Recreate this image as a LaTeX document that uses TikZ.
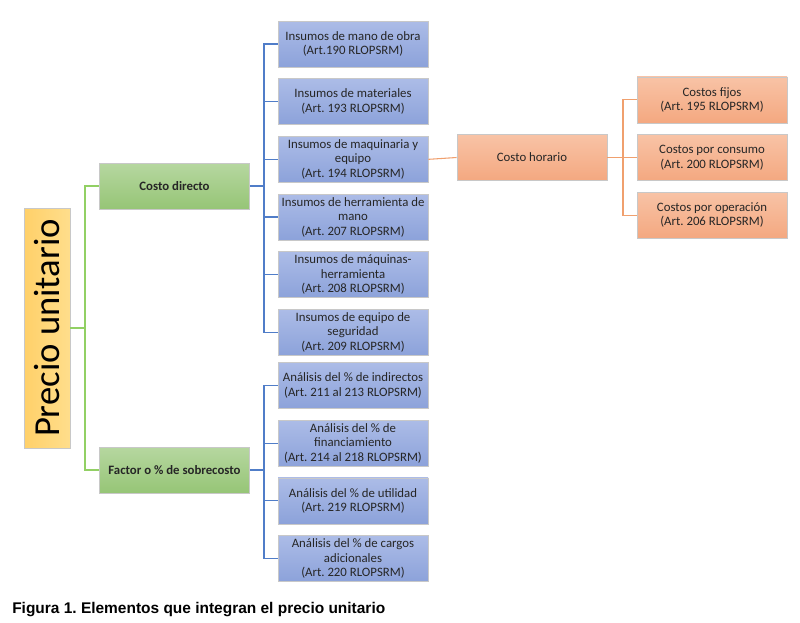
\documentclass[tikz,border=0pt]{standalone}
\usepackage{fontspec}
\setmainfont{Carlito}
\newfontfamily\capfont{Liberation Sans}
\usepackage{tikz}
\usetikzlibrary{positioning, calc}
\frenchspacing

\definecolor{bluetop}{RGB}{172,188,231}
\definecolor{bluebot}{RGB}{140,162,218}
\definecolor{greentop}{RGB}{182,215,160}
\definecolor{greenbot}{RGB}{150,197,118}
\definecolor{orangetop}{RGB}{248,195,166}
\definecolor{orangebot}{RGB}{244,168,128}
\definecolor{goldtop}{RGB}{255,222,140}
\definecolor{goldbot}{RGB}{255,208,105}
\definecolor{bline}{RGB}{80,125,200}
\definecolor{gline}{RGB}{146,208,100}
\definecolor{oline}{RGB}{240,160,110}
\definecolor{edgegray}{RGB}{200,200,200}

\begin{document}
\begin{tikzpicture}[
  x=0.75pt, y=-0.75pt,
  node distance=8.25pt and 20pt,
  every node/.style={font=\fontsize{9.6}{10.9}\selectfont, text=black!85},
  box/.style={rectangle, draw=edgegray, line width=0.5pt, minimum width=112.5pt, minimum height=34.5pt, align=center, inner xsep=1pt, inner ysep=0.5pt},
  blue/.style={box, top color=bluetop, bottom color=bluebot},
  green/.style={box, top color=greentop, bottom color=greenbot, font=\fontsize{9.6}{10.9}\selectfont\bfseries},
  orange/.style={box, top color=orangetop, bottom color=orangebot},
  bwire/.style={draw=bline, line width=0.8pt},
  gwire/.style={draw=gline, line width=0.8pt},
  owire/.style={draw=oline, line width=0.8pt}
]
\useasboundingbox (0,0) rectangle (800,622);

% Root
\node[rectangle, draw=edgegray, line width=0.5pt, left color=goldbot, right color=goldtop, rotate=90,
  minimum width=180pt, minimum height=34.5pt, font=\fontsize{27.5}{30}\selectfont, text=black] (precio) at (47,328) {Precio unitario};

% Second level
\node[green] (directo) at (174.5,186) {Costo directo};
\node[green] (sobrecosto) at (174.5,470) {Factor o \% de sobrecosto};

% Costo directo branch
\node[blue] (mano) at (353,44) {Insumos de mano de obra\\(Art.190 RLOPSRM)};
\node[blue, below=of mano] (materiales) {Insumos de materiales\\(Art. 193 RLOPSRM)};
\node[blue, below=of materiales] (maquinaria) {Insumos de maquinaria y\\equipo\\(Art. 194 RLOPSRM)};
\node[blue, below=of maquinaria] (herramienta) {Insumos de herramienta de\\mano\\(Art. 207 RLOPSRM)};
\node[blue, below=of herramienta] (maquinas) {Insumos de máquinas-\\herramienta\\(Art. 208 RLOPSRM)};
\node[blue, below=of maquinas] (seguridad) {Insumos de equipo de\\seguridad\\(Art. 209 RLOPSRM)};

% Sobrecosto branch
\node[blue] (indirectos) at (353,385.5) {Análisis del \% de indirectos\\(Art. 211 al 213 RLOPSRM)};
\node[blue, below=of indirectos] (financiamiento) {Análisis del \% de\\financiamiento\\(Art. 214 al 218 RLOPSRM)};
\node[blue, below=of financiamiento] (utilidad) {Análisis del \% de utilidad\\(Art. 219 RLOPSRM)};
\node[blue, below=of utilidad] (cargos) {Análisis del \% de cargos\\adicionales\\(Art. 220 RLOPSRM)};

% Costo horario
\node[orange] (horario) at (532,157.5) {Costo horario};
\node[orange] (consumo) at (712,157.5) {Costos por consumo\\(Art. 200 RLOPSRM)};
\node[orange, above=of consumo] (fijos) {Costos fijos\\(Art. 195 RLOPSRM)};
\node[orange, below=of consumo] (operacion) {Costos por operación\\(Art. 206 RLOPSRM)};

% Connectors
\coordinate (gbus) at (85,328);
\coordinate (bbus) at (264,186);
\coordinate (fbus) at (264,470);
\coordinate (obus) at (623,157.5);

\draw[gwire] (precio.south) -- (gbus);
\draw[gwire] (directo.west) -| (gbus);
\draw[gwire] (sobrecosto.west) -| (gbus);

\draw[bwire] (directo.east) -- (bbus);
\foreach \n in {mano, materiales, maquinaria, herramienta, maquinas, seguridad}
  \draw[bwire] (\n.west) -| (bbus);

\draw[bwire] (sobrecosto.east) -- (fbus);
\foreach \n in {indirectos, financiamiento, utilidad, cargos}
  \draw[bwire] (\n.west) -| (fbus);

\draw[owire] (maquinaria.east) -- (horario.west);
\draw[owire] (horario.east) -- (obus);
\foreach \n in {fijos, consumo, operacion}
  \draw[owire] (\n.west) -| (obus);

% Caption
\node[anchor=base west, inner sep=0pt, font=\capfont\bfseries\fontsize{11.6}{14}\selectfont, text=black] (caption) at (12,613) {Figura 1. Elementos que integran el precio unitario};
\end{tikzpicture}
\end{document}
